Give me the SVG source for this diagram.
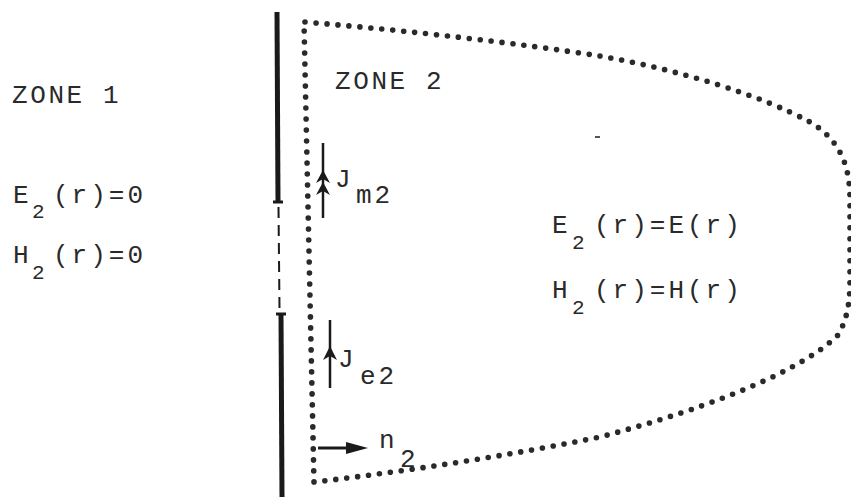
<svg xmlns="http://www.w3.org/2000/svg" width="851" height="503" viewBox="0 0 851 503">
<style>
.t{font-family:"Liberation Mono","DejaVu Sans Mono",monospace;font-size:26px;fill:#2a2a2a}
.z{letter-spacing:2.6px}
.e{letter-spacing:3px}
.s{font-size:21px}
.ln{stroke:#1a1a1a;fill:none}
.ah{fill:#1a1a1a;stroke:none}
</style>
<rect width="851" height="503" fill="#fff"/>
<g id="wall">
  <line class="ln" x1="277" y1="12" x2="278" y2="202" stroke-width="5"/>
  <line class="ln" x1="273" y1="202" x2="283" y2="202" stroke-width="3"/>
  <line class="ln" x1="278.5" y1="207" x2="279.5" y2="309" stroke-width="2" stroke-dasharray="11 7"/>
  <line class="ln" x1="276" y1="314" x2="286" y2="314" stroke-width="3"/>
  <line class="ln" x1="281" y1="314" x2="282" y2="497" stroke-width="5"/>
</g>
<g id="surface">
  <path d="M305 22 Q470 36 600 56 C680 70 760 95 810 122 C840 140 850 165 850 200 L850 280 C850 300 848 318 838 335 C805 368 720 405 600 437 Q460 465 314 482 L304 22" fill="none" stroke="#2a2a2a" stroke-width="5.6" stroke-linecap="round" stroke-dasharray="0 11"/>
</g>
<g id="zone1">
  <text class="t z" x="12" y="103">ZONE 1</text>
  <text class="t e" y="203"><tspan x="13">E</tspan><tspan class="s" x="32" dy="15">2</tspan><tspan x="53" dy="-15">(r)=0</tspan></text>
  <text class="t e" y="263"><tspan x="13">H</tspan><tspan class="s" x="32" dy="16">2</tspan><tspan x="53" dy="-16">(r)=0</tspan></text>
</g>
<g id="zone2">
  <text class="t z" x="335" y="89">ZONE 2</text>
  <text class="t e" y="233"><tspan x="552">E</tspan><tspan class="s" x="572" dy="16">2</tspan><tspan x="594" dy="-16">(r)=E(r)</tspan></text>
  <text class="t e" y="298"><tspan x="552">H</tspan><tspan class="s" x="572" dy="16">2</tspan><tspan x="594" dy="-16">(r)=H(r)</tspan></text>
  <rect x="595" y="136" width="5" height="2" fill="#555"/>
</g>
<g id="connectors">
  <g id="jm2">
    <line class="ln" x1="323" y1="143" x2="323" y2="218" stroke-width="2.5"/>
    <path class="ah" d="M323 170 L330 183 L323 179 L316 183 Z"/>
    <path class="ah" d="M323 182 L330 195 L323 191 L316 195 Z"/>
  </g>
  <g id="je2">
    <line class="ln" x1="330" y1="320" x2="330" y2="388" stroke-width="2.5"/>
    <path class="ah" d="M330 346 L337 360 L330 356 L323 360 Z"/>
  </g>
  <g id="n2arrow">
    <line class="ln" x1="318" y1="448" x2="350" y2="448" stroke-width="3"/>
    <path class="ah" d="M368 448 L346 442 L346 454 Z"/>
  </g>
</g>
<g id="labels">
  <text class="t" x="335" y="187">J</text>
  <text class="t e" x="356" y="203">m2</text>
  <text class="t" x="338" y="367">J</text>
  <text class="t e" x="360" y="384">e2</text>
  <text class="t" x="379" y="448">n</text>
  <text class="t" x="400" y="467">2</text>
</g>
</svg>
